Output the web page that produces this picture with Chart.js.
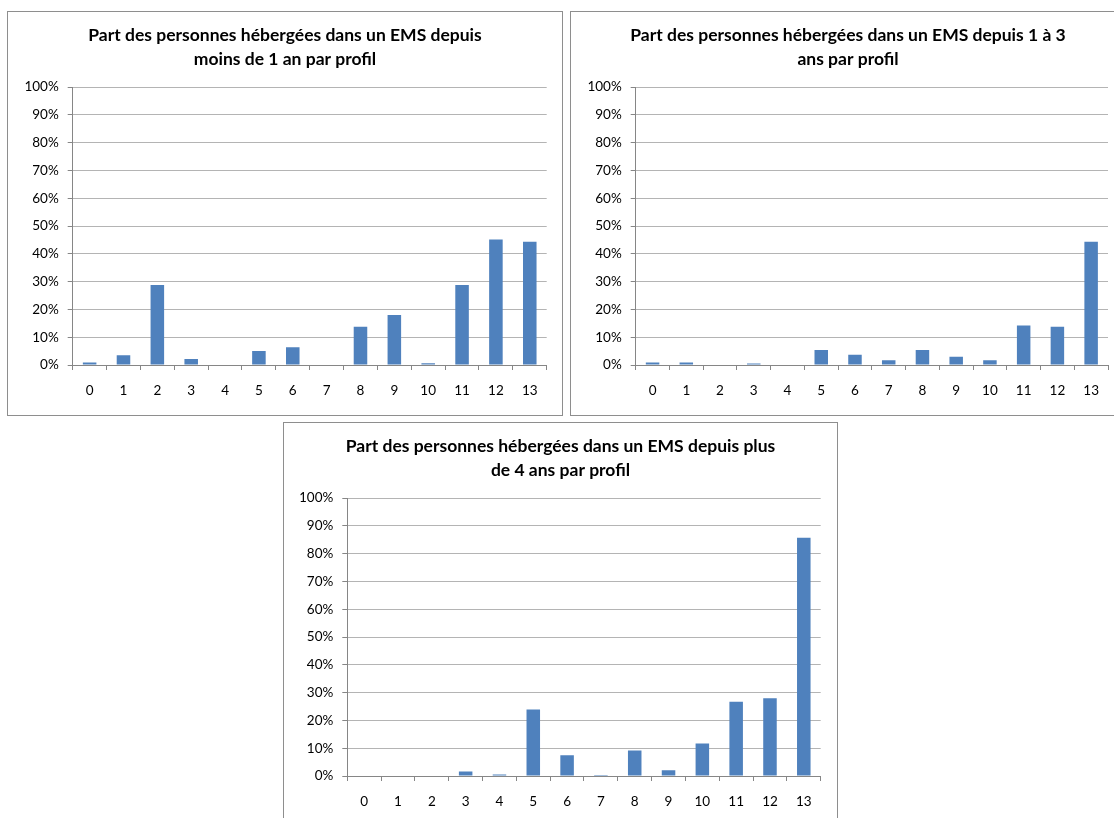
<!DOCTYPE html>
<html lang="fr">
<head>
<meta charset="utf-8">
<title>Part des personnes hébergées dans un EMS par profil</title>
<script src="https://cdn.jsdelivr.net/npm/chart.js@4.4.1/dist/chart.umd.min.js"></script>
<style>
  html, body { margin: 0; padding: 0; background: #ffffff; overflow: hidden; }
  body { width: 1114px; height: 818px; position: relative; }
  .panel { position: absolute; box-sizing: border-box; border: 1px solid #8e8e8e; background: #fff; }
  .panel canvas { position: absolute; left: 0; top: 0; }
</style>
</head>
<body>
<div class="panel" id="p1" style="left:7px; top:11px; width:556px; height:405px;"><canvas id="c1" width="554" height="403"></canvas></div>
<div class="panel" id="p2" style="left:570px; top:11px; width:556px; height:405px;"><canvas id="c2" width="554" height="403"></canvas></div>
<div class="panel" id="p3" style="left:283px; top:422px; width:555px; height:405px;"><canvas id="c3" width="553" height="403"></canvas></div>
<script>
// Profils de soins (catégories de l'axe horizontal)
const profils = ['0', '1', '2', '3', '4', '5', '6', '7', '8', '9', '10', '11', '12', '13'];

// Part (%) des personnes hébergées par profil, selon la durée de séjour
const partMoins1An = [0.9, 3.5, 28.8, 2.2, 0, 5.0, 6.4, 0, 13.8, 18.0, 0.6, 28.8, 45.1, 44.3];
const part1a3Ans   = [0.9, 0.9, 0, 0.5, 0, 5.4, 3.7, 1.7, 5.4, 3.0, 1.7, 14.2, 13.8, 44.3];
const partPlus4Ans = [0, 0, 0, 1.6, 0.5, 23.9, 7.5, 0.4, 9.2, 2.1, 11.7, 26.7, 28.0, 85.7];

// Graduations de l'axe vertical
const yMin = 0, yMax = 100, yStep = 10;

// Titres (deux lignes chacun)
const titre1 = ['Part des personnes hébergées dans un EMS depuis', 'moins de 1 an par profil'];
const titre2 = ['Part des personnes hébergées dans un EMS depuis 1 à 3', 'ans par profil'];
const titre3 = ['Part des personnes hébergées dans un EMS depuis plus', 'de 4 ans par profil'];

const BAR_COLOR = '#4f81bd';
const AXIS_COLOR = '#868686';
const GRID_COLOR = '#b4b4b4';
const TEXT_COLOR = '#000000';

// sidePad: marge symétrique (titre centré sur le cadre), yAxisWidth: largeur de l'axe des %
function makeChart(canvasId, titleLines, values, yAxisWidth, sidePad) {
  const ctx = document.getElementById(canvasId);
  const canvasHeight = ctx.height;
  return new Chart(ctx, {
    type: 'bar',
    data: {
      labels: profils,
      datasets: [{
        data: values,
        backgroundColor: BAR_COLOR,
        borderWidth: 0,
        barPercentage: 0.4,
        categoryPercentage: 1.0
      }]
    },
    options: {
      responsive: false,
      devicePixelRatio: 1,
      animation: false,
      layout: { padding: { left: sidePad, right: sidePad, top: 0, bottom: 0 } },
      plugins: {
        legend: { display: false },
        tooltip: { enabled: false },
        title: {
          display: true,
          text: titleLines,
          color: TEXT_COLOR,
          font: { family: 'Lato', size: 17.5, weight: 'bold', lineHeight: 24 / 17.5 },
          padding: { top: 11, bottom: 16 }
        }
      },
      scales: {
        x: {
          offset: true,
          grid: {
            offset: true,
            drawOnChartArea: false,
            drawTicks: true,
            tickLength: 5,
            tickColor: AXIS_COLOR,
            tickWidth: 1
          },
          border: { display: true, color: AXIS_COLOR, width: 1 },
          ticks: {
            color: TEXT_COLOR,
            font: { family: 'Lato', size: 13.5 },
            padding: 13,
            maxRotation: 0,
            autoSkip: false
          },
          afterFit: (scale) => { scale.height = canvasHeight - 353; }
        },
        y: {
          min: yMin,
          max: yMax,
          grid: {
            color: GRID_COLOR,
            lineWidth: 1,
            drawTicks: true,
            tickLength: 5,
            tickColor: AXIS_COLOR
          },
          border: { display: true, color: AXIS_COLOR, width: 1 },
          ticks: {
            stepSize: yStep,
            color: TEXT_COLOR,
            font: { family: 'Lato', size: 13.5 },
            padding: 9,
            callback: (v) => v + '%'
          },
          afterFit: (scale) => { scale.width = yAxisWidth; }
        }
      }
    }
  });
}

makeChart('c1', titre1, partMoins1An, 49.4, 15.3);
makeChart('c2', titre2, part1a3Ans, 47.7, 17);
makeChart('c3', titre3, partPlus4Ans, 47.0, 16.3);
</script>
</body>
</html>
